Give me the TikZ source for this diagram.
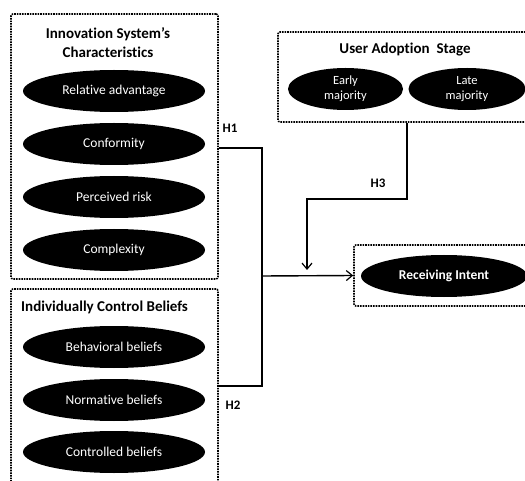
\documentclass[tikz,border=0pt]{standalone}
\usepackage{fontspec}
\setmainfont{Carlito}[Ligatures=NoCommon]
\usetikzlibrary{arrows.meta,shapes.geometric}
\begin{document}
\begin{tikzpicture}[x=1pt,y=-1pt,
  grp/.style={draw, densely dotted, line width=1.6pt, rounded corners=2pt, inner sep=0pt},
  ell/.style={ellipse, fill=black, text=white, inner sep=0pt, minimum height=42pt, font=\fontsize{13.5}{14}\selectfont, align=center},
  ttl/.style={font=\bfseries\fontsize{15}{19}\selectfont, inner sep=0pt, align=center},
  hlab/.style={font=\bfseries\fontsize{13}{13}\selectfont, inner sep=0pt},
  conn/.style={line width=1.4pt},
  arr/.style={conn, -{Straight Barb[length=6pt,width=10pt,line width=1.2pt]}}]
\clip (0,0) rectangle (525,481);
% group boxes
\node[grp, minimum width=207pt, minimum height=265pt] (sys) at (114.5,146.5) {};
\node[grp, minimum width=207pt, minimum height=220pt] (ctl) at (114.5,399) {};
\node[grp, minimum width=252pt, minimum height=90pt] (usr) at (404,77) {};
\node[grp, minimum width=176pt, minimum height=61pt] (ri) at (442,275.5) {};
% titles
\node[ttl] (t1) at (108,42.5) {Innovation System's\\Characteristics};
\node[ttl, anchor=west] (t2) at (21,307) {Individually Control Beliefs};
\node[ttl] (t3) at (405,50) {User Adoption\ \ Stage};
% ellipses
\node[ell, minimum width=182pt] (e1) at (114,91) {Relative advantage};
\node[ell, minimum width=182pt] (e2) at (114,144) {Conformity};
\node[ell, minimum width=182pt] (e3) at (114,197) {Perceived risk};
\node[ell, minimum width=182pt] (e4) at (114,250) {Complexity};
\node[ell, minimum width=182pt] (e5) at (114,347) {Behavioral beliefs};
\node[ell, minimum width=182pt] (e6) at (114,400) {Normative beliefs};
\node[ell, minimum width=182pt] (e7) at (114,452) {Controlled beliefs};
\node[ell, minimum width=115pt, font=\fontsize{12.5}{15}\selectfont] (e8) at (345.5,89) {Early\\majority};
\node[ell, minimum width=117pt, font=\fontsize{12.5}{15}\selectfont] (e9) at (467,89) {Late\\majority};
\node[ell, minimum width=166pt, font=\bfseries\fontsize{13.5}{14}\selectfont] (e10) at (444,276) {Receiving Intent};
% connectors
\coordinate (j1) at (262,148);
\coordinate (j2) at (262,386);
\coordinate (m) at (262,276);
\coordinate (k1) at (407,199);
\coordinate (k2) at (307,199);
\coordinate (k3) at (307,270);
\draw[conn] (sys.east |- j1) -- (j1) -- (j2) -- (ctl.east |- j2);
\draw[arr] (m) -- (ri.west);
\draw[arr] (usr.south -| k1) -- (k1) -- (k2) -- (k3);
% labels
\node[hlab] (h1) at (230,128) {H1};
\node[hlab] (h2) at (233,405) {H2};
\node[hlab] (h3) at (378,183) {H3};
\end{tikzpicture}
\end{document}
